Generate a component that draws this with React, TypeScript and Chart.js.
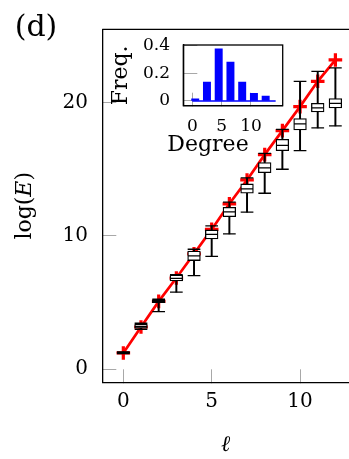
import React, { useEffect, useRef } from 'react';
import { Chart, registerables } from 'chart.js';

Chart.register(...registerables);

// ---------- data (main panel) ----------
const ells = [0, 1, 2, 3, 4, 5, 6, 7, 8, 9, 10, 11, 12];
const logE = [1.22, 3.17, 5.09, 6.84, 8.66, 10.49, 12.41, 14.2, 16.1, 17.9, 19.7, 21.6, 23.2];
const boxMin = [1.17, 3.0, 4.32, 5.78, 7.02, 8.47, 10.15, 11.78, 13.2, 15.0, 16.4, 18.1, 18.25];
const boxQ1 = [1.2, 3.08, 5.0, 6.62, 8.15, 9.77, 11.45, 13.2, 14.75, 16.4, 17.95, 19.3, 19.6];
const boxMed = [1.24, 3.2, 5.1, 6.82, 8.5, 10.12, 11.8, 13.53, 15.1, 16.8, 18.4, 19.6, 19.95];
const boxQ3 = [1.28, 3.38, 5.2, 7.07, 8.87, 10.45, 12.15, 13.9, 15.5, 17.25, 18.8, 19.95, 20.3];
const boxMax = [1.3, 3.45, 5.25, 7.1, 9.0, 10.75, 12.53, 14.35, 16.2, 18.0, 21.6, 22.35, 22.6];
const xTicks = [0, 5, 10];
const yTicks = [0, 10, 20];

// ---------- data (inset histogram) ----------
const degreeBins = [0.5, 2.5, 4.5, 6.5, 8.5, 10.5, 12.5];
const freq = [0.015, 0.136, 0.376, 0.28, 0.136, 0.056, 0.036];
const degreeSpan = [0, 14.2];
const insetXTicks = [0, 5, 10];
const insetYTicks = [0, 0.2, 0.4];

const FONT = "'DejaVu Serif', serif";
const TICK_GRAY = '#a8a8a8';

const pts = (ys: number[]) => ells.map((x, i) => ({ x, y: ys[i] }));
const ranges = (lo: number[], hi: number[]) => ells.map((x, i) => ({ x, y: [lo[i], hi[i]] }));

const mainPlugin = {
  id: 'mainDecor',
  afterDraw(chart: any) {
    const { ctx, chartArea } = chart;
    ctx.save();
    ctx.strokeStyle = '#000';
    ctx.lineWidth = 1.3;
    ctx.beginPath();
    ctx.moveTo(chartArea.left, chartArea.top);
    ctx.lineTo(chartArea.right + 2, chartArea.top);
    ctx.stroke();

    ctx.fillStyle = '#000';
    ctx.textBaseline = 'middle';
    ctx.textAlign = 'center';
    ctx.font = `30px ${FONT}`;
    ctx.fillText('(d)', 36, 28);

    // y-axis title log(E) with italic E
    const cy = (chartArea.top + chartArea.bottom) / 2;
    ctx.translate(25, cy);
    ctx.rotate(-Math.PI / 2);
    const parts: [string, string][] = [['log(', 'normal'], ['E', 'italic'], [')', 'normal']];
    let total = 0;
    const widths = parts.map(([t, s]) => {
      ctx.font = `${s} 22px ${FONT}`;
      const w = ctx.measureText(t).width;
      total += w;
      return w;
    });
    ctx.textAlign = 'left';
    let x = -total / 2;
    parts.forEach(([t, s], i) => {
      ctx.font = `${s} 22px ${FONT}`;
      ctx.fillText(t, x, 0);
      x += widths[i];
    });
    ctx.restore();
  },
};

const insetPlugin = {
  id: 'insetDecor',
  beforeDraw(chart: any) {
    const { ctx, chartArea } = chart;
    ctx.save();
    ctx.fillStyle = '#fff';
    ctx.fillRect(chartArea.left, chartArea.top, chartArea.right - chartArea.left, chartArea.bottom - chartArea.top);
    ctx.restore();
  },
  afterDraw(chart: any) {
    const { ctx, chartArea } = chart;
    ctx.save();
    ctx.strokeStyle = '#000';
    ctx.lineWidth = 1.3;
    ctx.strokeRect(chartArea.left, chartArea.top, chartArea.right - chartArea.left, chartArea.bottom - chartArea.top);
    ctx.fillStyle = '#000';
    ctx.textAlign = 'center';
    ctx.textBaseline = 'middle';
    ctx.font = `22px ${FONT}`;
    ctx.fillText('Degree', 108, 115.5);
    ctx.restore();
  },
};

export default function App() {
  const mainRef = useRef<HTMLCanvasElement>(null);
  const insetRef = useRef<HTMLCanvasElement>(null);

  useEffect(() => {
    const main = new Chart(mainRef.current as HTMLCanvasElement, {
      type: 'bar',
      data: {
        datasets: [
          {
            type: 'scatter',
            data: [...pts(boxMin), ...pts(boxMax)],
            pointStyle: 'line',
            pointRadius: 6.35,
            pointBorderWidth: 1.3,
            pointBorderColor: '#000',
            pointBackgroundColor: '#000',
            order: 1,
          } as any,
          {
            type: 'scatter',
            data: pts(boxMed),
            pointStyle: 'line',
            pointRadius: 6.0,
            pointBorderWidth: 1.3,
            pointBorderColor: '#000',
            pointBackgroundColor: '#000',
            order: 1,
          } as any,
          {
            type: 'bar',
            data: ranges(boxQ1, boxQ3),
            backgroundColor: '#fff',
            borderColor: '#000',
            borderWidth: 1.3,
            borderSkipped: false,
            barThickness: 12.7,
            grouped: false,
            order: 2,
          } as any,
          {
            type: 'bar',
            data: ranges(boxMin, boxQ1),
            backgroundColor: '#000',
            borderWidth: 0,
            barThickness: 1.3,
            grouped: false,
            order: 3,
          } as any,
          {
            type: 'bar',
            data: ranges(boxQ3, boxMax),
            backgroundColor: '#000',
            borderWidth: 0,
            barThickness: 1.3,
            grouped: false,
            order: 3,
          } as any,
          {
            type: 'line',
            data: pts(logE),
            borderColor: '#ff0000',
            borderWidth: 2.7,
            pointStyle: 'cross',
            pointRadius: 6.8,
            pointBorderWidth: 3.2,
            pointBorderColor: '#ff0000',
            pointBackgroundColor: '#ff0000',
            fill: false,
            tension: 0,
            order: 10,
          } as any,
        ],
      },
      options: {
        responsive: false,
        animation: false,
        events: [],
        layout: { autoPadding: false, padding: { top: 29.3, right: 0, left: 0, bottom: 0 } },
        plugins: { legend: { display: false }, tooltip: { enabled: false } },
        scales: {
          x: {
            type: 'linear',
            min: -1.19,
            max: 12.77,
            offset: false,
            afterBuildTicks: (s: any) => {
              s.ticks = xTicks.map((v) => ({ value: v }));
            },
            afterFit: (s: any) => {
              s.height = 76.7;
              s.paddingLeft = 0;
              s.paddingRight = 0;
            },
            grid: { drawOnChartArea: false, drawTicks: true, tickLength: -13, color: TICK_GRAY, lineWidth: 1, offset: false },
            border: { display: true, color: '#000', width: 1.3 },
            ticks: { padding: 20.5, color: '#000', font: { family: FONT, size: 20 }, autoSkip: false, maxRotation: 0, callback: (v: any) => String(v) },
            title: { display: true, text: 'ℓ', color: '#000', font: { family: FONT, size: 22, style: 'italic' }, padding: { top: 0, bottom: 1 } },
          },
          y: {
            type: 'linear',
            min: -0.98,
            max: 25.5,
            afterBuildTicks: (s: any) => {
              s.ticks = yTicks.map((v) => ({ value: v }));
            },
            afterFit: (s: any) => {
              s.width = 102.3;
              s.paddingTop = 0;
              s.paddingBottom = 0;
            },
            grid: { drawOnChartArea: false, drawTicks: true, tickLength: -14, color: TICK_GRAY, lineWidth: 1 },
            border: { display: true, color: '#000', width: 1.3 },
            ticks: { padding: 28.3, color: '#000', font: { family: FONT, size: 20 }, autoSkip: false, callback: (v: any) => String(v) },
          },
        },
      } as any,
      plugins: [mainPlugin],
    });

    const inset = new Chart(insetRef.current as HTMLCanvasElement, {
      type: 'bar',
      data: {
        datasets: [
          {
            type: 'line',
            data: degreeSpan.map((x) => ({ x, y: 0 })),
            borderColor: '#0000ff',
            borderWidth: 1.6,
            pointRadius: 0,
            order: 0,
          } as any,
          {
            type: 'bar',
            data: degreeBins.map((x, i) => ({ x, y: freq[i] })),
            backgroundColor: '#0000ff',
            borderWidth: 0,
            barThickness: 7.3,
            grouped: false,
            order: 1,
          } as any,
        ],
      },
      options: {
        responsive: false,
        animation: false,
        events: [],
        layout: { autoPadding: false, padding: { top: 15, right: 7.3, left: 0, bottom: 0 } },
        plugins: { legend: { display: false }, tooltip: { enabled: false } },
        scales: {
          x: {
            type: 'linear',
            min: -1.53,
            max: 15.4,
            offset: false,
            afterBuildTicks: (s: any) => {
              s.ticks = insetXTicks.map((v) => ({ value: v }));
            },
            afterFit: (s: any) => {
              s.height = 54.3;
              s.paddingLeft = 0;
              s.paddingRight = 0;
            },
            grid: { drawOnChartArea: false, drawTicks: true, tickLength: -13, color: TICK_GRAY, lineWidth: 1, offset: false },
            border: { display: true, color: '#000', width: 1.3 },
            ticks: { padding: 24.1, color: '#000', font: { family: FONT, size: 17 }, autoSkip: false, maxRotation: 0, callback: (v: any) => String(v) },
          },
          y: {
            type: 'linear',
            min: -0.034,
            max: 0.404,
            afterBuildTicks: (s: any) => {
              s.ticks = insetYTicks.map((v) => ({ value: v }));
            },
            afterFit: (s: any) => {
              s.width = 83.3;
              s.paddingTop = 0;
              s.paddingBottom = 0;
            },
            grid: { drawOnChartArea: false, drawTicks: true, tickLength: -14, color: TICK_GRAY, lineWidth: 1 },
            border: { display: true, color: '#000', width: 1.3 },
            ticks: { padding: 27.3, color: '#000', font: { family: FONT, size: 17 }, autoSkip: false, callback: (v: any) => String(v) },
            title: { display: true, text: 'Freq.', color: '#000', font: { family: FONT, size: 22 }, padding: { top: 7.8, bottom: 0 } },
          },
        },
      } as any,
      plugins: [insetPlugin],
    });

    return () => {
      main.destroy();
      inset.destroy();
    };
  }, []);

  return (
    <div style={{ position: 'absolute', left: 0, top: 0, width: 349, height: 459, overflow: 'hidden', background: '#fff' }}>
      <canvas ref={mainRef} width={349} height={459} style={{ position: 'absolute', left: 0, top: 0, width: 349, height: 459 }} />
      <canvas ref={insetRef} width={190} height={130} style={{ position: 'absolute', left: 100, top: 30, width: 190, height: 130 }} />
    </div>
  );
}
